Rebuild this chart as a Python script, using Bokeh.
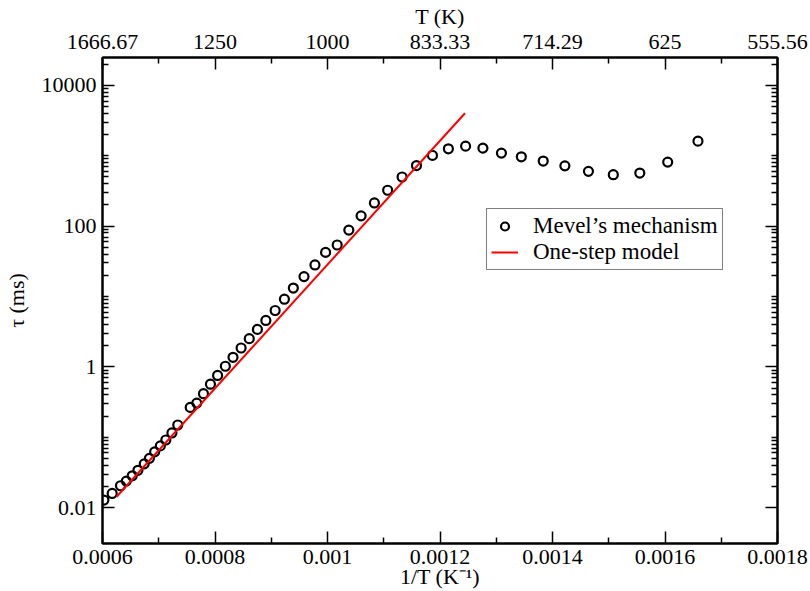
from bokeh.plotting import figure
from bokeh.models import (Range1d, LinearAxis, LogAxis, FixedTicker, Legend,
                          LegendItem)
from bokeh.embed import file_html
from bokeh.resources import INLINE

# Ignition delay from the detailed mechanism (1/T in K^-1, tau in ms)
inv_T = [0.0006025, 0.0006172, 0.0006320, 0.0006423, 0.0006529, 0.0006630,
         0.0006742, 0.0006834, 0.0006927, 0.0007028, 0.0007126, 0.0007234,
         0.0007338, 0.0007559, 0.0007676, 0.0007795, 0.0007919, 0.0008046,
         0.0008184, 0.0008320, 0.0008464, 0.0008609, 0.0008754, 0.0008904,
         0.0009069, 0.0009234, 0.0009393, 0.0009582, 0.0009777, 0.0009966,
         0.0010172, 0.0010379, 0.0010597, 0.0010834, 0.0011069, 0.0011326,
         0.0011582, 0.0011866, 0.0012149, 0.0012455, 0.0012763, 0.0013092,
         0.0013446, 0.0013835, 0.0014220, 0.0014639, 0.0015081, 0.0015552,
         0.0016048, 0.0016586]
tau_ms = [0.01285, 0.01595, 0.02051, 0.02388, 0.02838, 0.03396,
          0.04198, 0.05023, 0.06209, 0.07551, 0.09162, 0.1153,
          0.1496, 0.2661, 0.3062, 0.4169, 0.5689, 0.7568,
          1.023, 1.371, 1.857, 2.521, 3.413, 4.578,
          6.339, 9.162, 13.19, 19.19, 28.11, 42.36,
          53.95, 87.90, 140.0, 213.9, 323.6, 499.3,
          726.1, 1012, 1255, 1370, 1284, 1091,
          966.6, 841.4, 719.0, 600.8, 538.2, 568.6,
          813.4, 1614]

# One-step (Arrhenius) model: straight line in log(tau) vs 1/T
model_inv_T = [0.000625, 0.0012444]
model_tau = [0.01432, 4018]

# Axis ticks
x_ticks = [0.0006, 0.0008, 0.0010, 0.0012, 0.0014, 0.0016, 0.0018]
x_minor = [0.0007, 0.0009, 0.0011, 0.0013, 0.0015, 0.0017]
x_tick_labels = ["0.0006", "0.0008", "0.001", "0.0012", "0.0014", "0.0016", "0.0018"]
T_tick_labels = ["1666.67", "1250", "1000", "833.33", "714.29", "625", "555.56"]
y_ticks = [0.01, 1, 100, 10000]
y_tick_labels = ["0.01", "1", "100", "10000"]

X_MIN, X_MAX = 0.0006, 0.0018
Y_MIN, Y_MAX = 0.0031, 24900

FONT = "Liberation Serif"

p = figure(width=810, height=591, output_backend="svg", toolbar_location=None,
           y_axis_type="log",
           x_range=Range1d(X_MIN, X_MAX), y_range=Range1d(Y_MIN, Y_MAX),
           min_border_left=99, min_border_right=33,
           min_border_top=55, min_border_bottom=48)
p.xgrid.visible = False
p.ygrid.visible = False
p.outline_line_color = "black"
p.outline_line_width = 2
p.background_fill_color = "white"
p.border_fill_color = "white"

y_minor = [k * 10.0 ** d for d in range(-2, 5) for k in range(1, 10)]
y_minor = [v for v in y_minor if Y_MIN < v < Y_MAX and v not in y_ticks]


def style_axis(ax):
    ax.axis_line_color = "black"
    ax.axis_line_width = 2
    ax.major_tick_in = 12
    ax.major_tick_out = 0
    ax.minor_tick_in = 6
    ax.minor_tick_out = 0
    ax.major_tick_line_width = 1.5
    ax.minor_tick_line_width = 1.5
    ax.major_tick_line_color = "black"
    ax.minor_tick_line_color = "black"
    ax.major_label_text_font = FONT
    ax.major_label_text_font_size = "22px"
    ax.major_label_text_color = "black"
    ax.axis_label_text_font = FONT
    ax.axis_label_text_font_size = "22px"
    ax.axis_label_text_font_style = "normal"
    ax.axis_label_text_color = "black"


# bottom axis: 1/T
bottom = p.below[0]
bottom.ticker = FixedTicker(ticks=x_ticks, minor_ticks=x_minor)
bottom.major_label_overrides = dict(zip(x_ticks, x_tick_labels))
bottom.axis_label = "1/T (K\u207b\u00b9)"
style_axis(bottom)
bottom.major_label_standoff = 6
bottom.axis_label_standoff = -3

# left axis: tau
left = p.left[0]
left.ticker = FixedTicker(ticks=y_ticks, minor_ticks=y_minor)
left.major_label_overrides = dict(zip(y_ticks, y_tick_labels))
left.axis_label = "\u03c4 (ms)"
style_axis(left)
left.major_label_standoff = 6
left.axis_label_standoff = 10

# top axis: temperature
top = LinearAxis(ticker=FixedTicker(ticks=x_ticks, minor_ticks=x_minor),
                 major_label_overrides=dict(zip(x_ticks, T_tick_labels)),
                 axis_label="T (K)")
style_axis(top)
top.major_label_standoff = 9
top.axis_label_standoff = 3
p.add_layout(top, "above")

# right axis: mirrored ticks only, labels hidden
right = LogAxis(ticker=FixedTicker(ticks=y_ticks, minor_ticks=y_minor))
style_axis(right)
right.major_label_text_font_size = "1px"
right.major_label_text_alpha = 0
right.major_label_standoff = 0
p.add_layout(right, "right")

r_pts = p.scatter(inv_T, tau_ms, marker="circle", size=9, fill_color=None,
                  line_color="black", line_width=2.2)
r_line = p.line(model_inv_T, model_tau, line_color="#ff0000", line_width=2)

legend = Legend(items=[LegendItem(label="Mevel\u2019s mechanism", renderers=[r_pts]),
                       LegendItem(label="One-step model", renderers=[r_line])],
                location=(384, 273))
legend.label_text_font = FONT
legend.label_text_font_size = "23px"
legend.label_text_color = "black"
legend.border_line_color = "black"
legend.border_line_width = 1.5
legend.background_fill_color = "white"
legend.background_fill_alpha = 1
legend.padding = 4
legend.spacing = 0
legend.margin = 0
legend.glyph_width = 27
legend.glyph_height = 20
legend.label_height = 20
legend.label_standoff = 15
p.add_layout(legend)

open("out.html", "w").write(file_html(p, INLINE))
